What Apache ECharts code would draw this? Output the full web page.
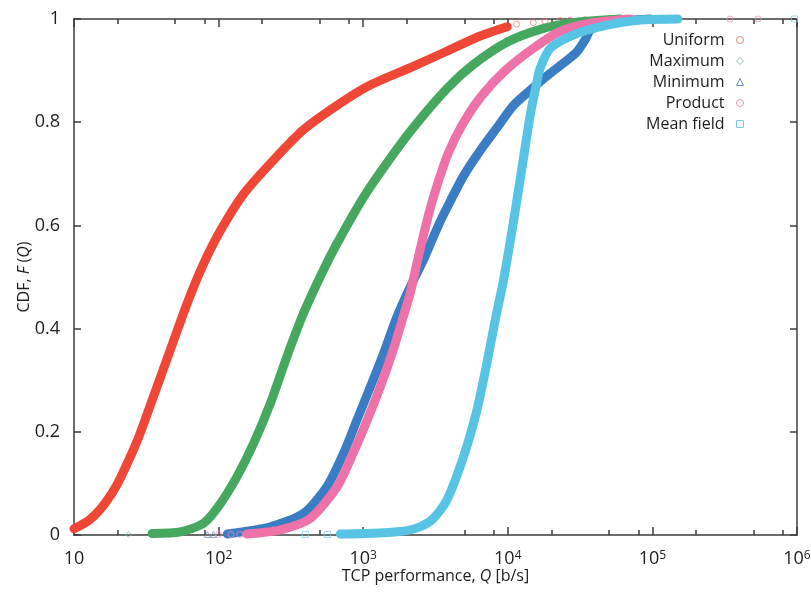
<!DOCTYPE html>
<html>
<head>
<meta charset="utf-8">
<script src="https://cdn.jsdelivr.net/npm/echarts@6/dist/echarts.min.js"></script>
<style>
html, body { margin: 0; padding: 0; background: #fff; }
#cdf { width: 811px; height: 593px; }
</style>
</head>
<body>
<div id="cdf"></div>
<script>
// series names, in legend order
var seriesNames = ['Uniform', 'Maximum', 'Minimum', 'Product', 'Mean field'];

// TCP performance Q [b/s] and CDF F(Q)
var uniformQ = [10, 12.6, 15.2, 18.2, 20.9, 27.5, 35.4, 46.5, 60.8, 78.5, 103, 148, 228, 385, 662, 1120, 2220, 3810, 6440, 9910];
var uniformF = [0.012, 0.028, 0.05, 0.08, 0.11, 0.184, 0.268, 0.36, 0.45, 0.525, 0.59, 0.66, 0.72, 0.785, 0.833, 0.872, 0.908, 0.938, 0.967, 0.985];

var maximumQ = [34.7, 54.4, 78.9, 103, 134, 175, 228, 297, 387, 532, 659, 1007, 1538, 2228, 3793, 5794, 9863, 16750, 28300, 59800];
var maximumF = [0.003, 0.006, 0.023, 0.061, 0.113, 0.178, 0.255, 0.346, 0.430, 0.514, 0.565, 0.655, 0.73, 0.79, 0.865, 0.912, 0.955, 0.98, 0.993, 1.0];

var minimumQ = [115, 228, 387, 562, 733, 906, 1120, 1384, 1712, 2115, 2612, 3251, 3810, 4920, 6440, 8450, 10900, 14290, 18700, 25700, 30200, 34300, 37700, 53500, 96400];
var minimumF = [0.002, 0.016, 0.042, 0.094, 0.159, 0.223, 0.287, 0.352, 0.423, 0.481, 0.533, 0.595, 0.635, 0.695, 0.745, 0.79, 0.832, 0.862, 0.89, 0.92, 0.937, 0.96, 0.98, 0.994, 1.0];

var productQ = [157, 267, 430, 662, 853, 1067, 1312, 1614, 1892, 2115, 2366, 2685, 2956, 3304, 3873, 4842, 6549, 9594, 14990, 23020, 37070, 70100];
var productF = [0.002, 0.010, 0.032, 0.094, 0.159, 0.223, 0.287, 0.359, 0.423, 0.469, 0.53, 0.595, 0.64, 0.685, 0.74, 0.795, 0.85, 0.90, 0.943, 0.976, 0.992, 1.0];

var meanQ = [695, 1312, 1954, 2483, 3055, 3793, 4943, 6115, 7170, 8190, 9340, 10940, 12830, 14290, 15890, 16750, 19630, 28300, 48400, 82200, 150000];
var meanF = [0.002, 0.004, 0.008, 0.016, 0.032, 0.068, 0.152, 0.242, 0.333, 0.417, 0.494, 0.607, 0.730, 0.814, 0.878, 0.905, 0.943, 0.969, 0.988, 0.998, 1.0];

// isolated sample points that sit away from the dense curves
var uniformSparseQ = [11500, 15000, 18100, 23000, 27000, 34300];
var uniformSparseF = [0.99, 0.993, 0.995, 0.997, 0.998, 0.999];
var maximumSparseQ = [23.8];
var maximumSparseF = [0.001];
var minimumSparseQ = [84, 92];
var minimumSparseF = [0.001, 0.001];
var productSparseQ = [100, 122, 140, 344000, 538000];
var productSparseF = [0.001, 0.001, 0.001, 1, 1];
var meanSparseQ = [398, 565, 960000];
var meanSparseF = [0.001, 0.001, 1];

// tick positions along the Q axis, as powers of ten
var majorExp = [1, 2, 3, 4, 5, 6];
var minorTicks = [20, 50, 80, 200, 500, 800, 2000, 5000, 8000, 20000, 50000, 80000, 200000, 500000, 800000];

var lineColors = ['#ef4636', '#46a85f', '#3b7dc4', '#ee72a8', '#57c4e5'];
var markColors = ['#ec7a70', '#7fc4a8', '#6a8fc4', '#f08cb6', '#7dcde8'];
var markIcons = ['circle', 'diamond', 'triangle', 'circle', 'rect'];

var fontName = '"Open Sans", "DejaVu Sans", sans-serif';
var inkColor = '#1f1c1d';
var frameColor = '#3d3d3d';

function pairs(q, f) {
    var out = [];
    for (var i = 0; i < q.length; i++) {
        out.push([q[i], f[i]]);
    }
    return out;
}

var minorExp = minorTicks.map(function (v) { return Math.log10(v); });

var curves = [
    [uniformQ, uniformF, uniformSparseQ, uniformSparseF],
    [maximumQ, maximumF, maximumSparseQ, maximumSparseF],
    [minimumQ, minimumF, minimumSparseQ, minimumSparseF],
    [productQ, productF, productSparseQ, productSparseF],
    [meanQ, meanF, meanSparseQ, meanSparseF]
];

var series = [];
curves.forEach(function (c, i) {
    series.push({
        name: seriesNames[i],
        type: 'line',
        xAxisIndex: 0,
        yAxisIndex: 0,
        data: pairs(c[0], c[1]),
        smooth: 0.25,
        showSymbol: false,
        clip: false,
        lineStyle: { color: lineColors[i], width: 9, cap: 'round', join: 'round' },
        itemStyle: { color: lineColors[i] },
        z: 2 + i
    });
    series.push({
        name: seriesNames[i],
        type: 'scatter',
        xAxisIndex: 0,
        yAxisIndex: 0,
        data: pairs(c[2], c[3]),
        symbol: markIcons[i],
        symbolSize: 6,
        clip: false,
        itemStyle: { color: 'rgba(255,255,255,0)', borderColor: markColors[i], borderWidth: 1, opacity: 0.75 },
        z: 2 + i
    });
});

// tick-only axis on the exponent scale (same span as the log axis)
function tickAxis(pos, values, len) {
    return {
        type: 'value',
        min: 1,
        max: 6,
        position: pos,
        axisLine: { show: false, onZero: false },
        axisTick: { show: true, inside: true, length: len, customValues: values, lineStyle: { color: frameColor, width: 1.5 } },
        axisLabel: { show: false },
        splitLine: { show: false }
    };
}

var chart = echarts.init(document.getElementById('cdf'));

var option = {
    backgroundColor: '#fff',
    animation: false,
    textStyle: { fontFamily: fontName, color: inkColor },
    grid: {
        left: 74,
        right: 14,
        top: 19,
        bottom: 58,
        outerBoundsMode: 'none'
    },
    legend: {
        orient: 'vertical',
        right: 62,
        top: 27,
        align: 'right',
        itemWidth: 7,
        itemHeight: 7,
        itemGap: 5,
        selectedMode: false,
        textStyle: { fontSize: 16, lineHeight: 16, color: inkColor, fontFamily: fontName, padding: [0, 7, 0, 0] },
        data: seriesNames.map(function (n, i) {
            return {
                name: n,
                icon: markIcons[i],
                itemStyle: { color: 'rgba(255,255,255,0)', borderColor: markColors[i], borderWidth: 1 }
            };
        })
    },
    xAxis: [
        {
            type: 'log',
            logBase: 10,
            min: 10,
            max: 1000000,
            position: 'bottom',
            name: 'TCP performance, {i|Q} [b/s]',
            nameLocation: 'middle',
            nameGap: 33,
            nameMoveOverlap: false,
            nameTextStyle: {
                fontSize: 16, color: inkColor, fontFamily: fontName,
                rich: { i: { fontSize: 16, fontStyle: 'italic', color: inkColor, fontFamily: fontName } }
            },
            axisLine: { show: true, onZero: false, lineStyle: { color: frameColor, width: 1.5 } },
            axisTick: { show: false },
            axisLabel: {
                margin: 15,
                color: inkColor,
                formatter: function (v) {
                    var p = Math.round(Math.log10(v));
                    if (p === 1) {
                        return '{b|10}';
                    }
                    return '{b|10}{s|' + p + '}';
                },
                rich: {
                    b: { fontSize: 18, color: inkColor, fontFamily: fontName },
                    s: { fontSize: 12, color: inkColor, fontFamily: fontName, verticalAlign: 'top' }
                }
            },
            splitLine: { show: false }
        },
        tickAxis('bottom', majorExp, 8),
        tickAxis('bottom', minorExp, 5),
        {
            type: 'log',
            logBase: 10,
            min: 10,
            max: 1000000,
            position: 'top',
            axisLine: { show: true, onZero: false, lineStyle: { color: frameColor, width: 1.5 } },
            axisTick: { show: false },
            axisLabel: { show: false },
            splitLine: { show: false }
        },
        tickAxis('top', majorExp, 8),
        tickAxis('top', minorExp, 5)
    ],
    yAxis: [
        {
            type: 'value',
            min: 0,
            max: 1,
            interval: 0.2,
            position: 'left',
            name: 'CDF, {i|F} ({i|Q})',
            nameLocation: 'middle',
            nameGap: 42,
            nameMoveOverlap: false,
            nameTextStyle: {
                fontSize: 16, color: inkColor, fontFamily: fontName,
                rich: { i: { fontSize: 16, fontStyle: 'italic', color: inkColor, fontFamily: fontName } }
            },
            axisLine: { show: true, onZero: false, lineStyle: { color: frameColor, width: 1.5 } },
            axisTick: { show: true, inside: true, length: 7, lineStyle: { color: frameColor, width: 1.5 } },
            axisLabel: { margin: 14, fontSize: 18, color: inkColor, fontFamily: fontName },
            splitLine: { show: false }
        },
        {
            type: 'value',
            min: 0,
            max: 1,
            interval: 0.2,
            position: 'right',
            axisLine: { show: true, onZero: false, lineStyle: { color: frameColor, width: 1.5 } },
            axisTick: { show: true, inside: true, length: 7, lineStyle: { color: frameColor, width: 1.5 } },
            axisLabel: { show: false },
            splitLine: { show: false }
        }
    ],
    series: series
};

chart.setOption(option);
</script>
</body>
</html>
